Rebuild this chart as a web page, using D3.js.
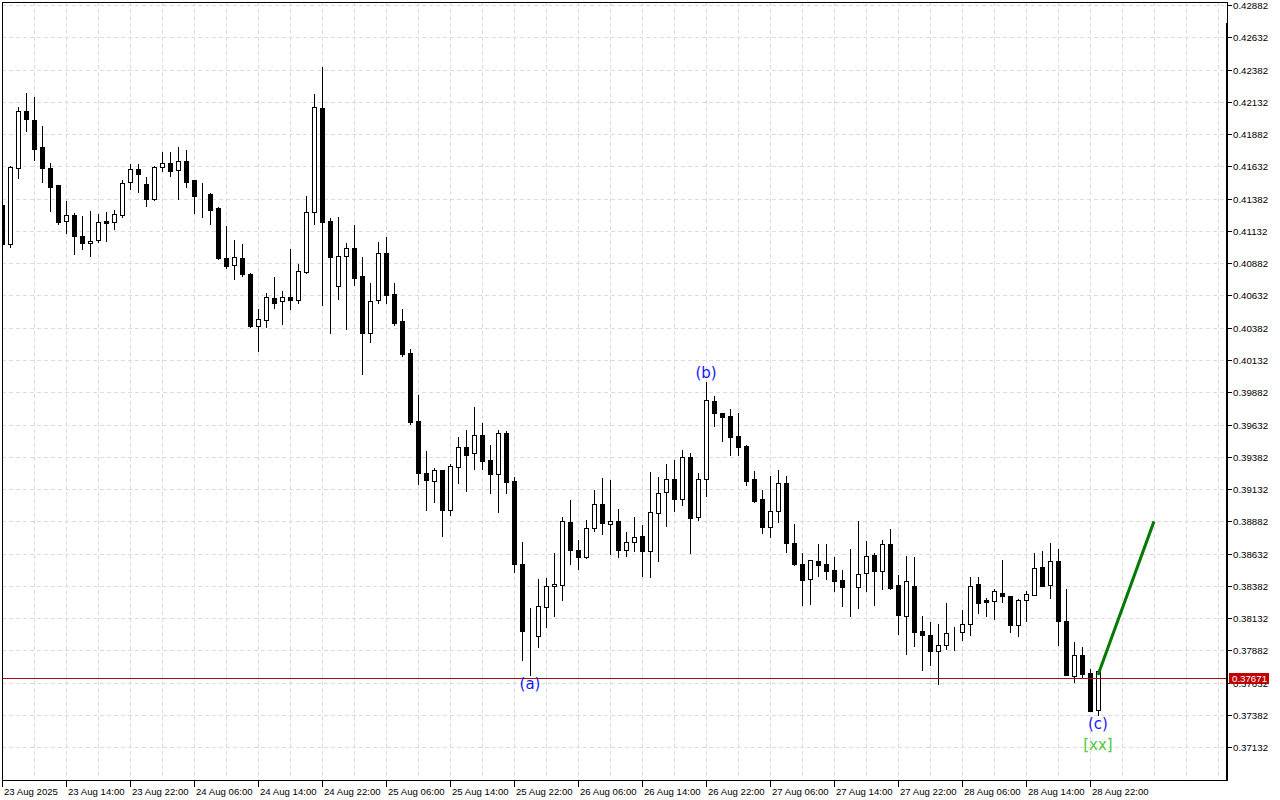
<!DOCTYPE html>
<html>
<head>
<meta charset="utf-8">
<script src="https://cdn.jsdelivr.net/npm/d3@7"></script>
<style>
  html, body { margin: 0; padding: 0; background: #fff; }
  svg { display: block; }
  text { font-family: "Liberation Sans", Arial, sans-serif; }
</style>
</head>
<body>
<svg id="chart" width="1280" height="800"></svg>
<script>
const width = 1280;
const height = 800;

// H1 bars, first bar = 23 Aug 06:00
const opens = [
  0.41332, 0.41027, 0.41616, 0.42058, 0.41988, 0.41779, 0.41616, 0.41485, 0.41206, 0.41252,
  0.41089, 0.41035, 0.41058, 0.41208, 0.41198, 0.41257, 0.41508, 0.41609, 0.41492, 0.41376,
  0.41624, 0.41655, 0.41601, 0.41671, 0.41526, 0.41413, 0.41415, 0.41309, 0.40919, 0.40865,
  0.40919, 0.40797, 0.40397, 0.40441, 0.40609, 0.40586, 0.40617, 0.40598, 0.40815, 0.41275,
  0.42081, 0.41208, 0.40708, 0.40941, 0.40996, 0.40779, 0.40338, 0.40593, 0.40958, 0.40640,
  0.40433, 0.40185, 0.39658, 0.39253, 0.39198, 0.39278, 0.38968, 0.39304, 0.39459, 0.39408,
  0.39550, 0.39356, 0.39247, 0.39563, 0.39193, 0.38555, 0.37990, 0.37997, 0.38219, 0.38385,
  0.38392, 0.38881, 0.38664, 0.38606, 0.38834, 0.39020, 0.38865, 0.38888, 0.38664, 0.38726,
  0.38772, 0.38653, 0.38950, 0.39110, 0.39209, 0.39059, 0.39379, 0.38919, 0.39214, 0.39818,
  0.39718, 0.39697, 0.39542, 0.39467, 0.39209, 0.39054, 0.38839, 0.38966, 0.39183, 0.38718,
  0.38550, 0.38436, 0.38578, 0.38555, 0.38503, 0.38426, 0.38372, 0.38374, 0.38482, 0.38620,
  0.38498, 0.38710, 0.38387, 0.38149, 0.38379, 0.38031, 0.37999, 0.37878, 0.37927, 0.38028,
  0.38028, 0.38090, 0.38395, 0.38271, 0.38265, 0.38330, 0.38302, 0.38079, 0.38276, 0.38315,
  0.38532, 0.38392, 0.38578, 0.38113, 0.37687, 0.37850, 0.37705, 0.37418
];
const highs = [
  0.41371, 0.41634, 0.42092, 0.42198, 0.42169, 0.41944, 0.41655, 0.41487, 0.41363, 0.41268,
  0.41247, 0.41286, 0.41262, 0.41278, 0.41293, 0.41526, 0.41650, 0.41650, 0.41547, 0.41634,
  0.41743, 0.41743, 0.41779, 0.41758, 0.41530, 0.41500, 0.41423, 0.41319, 0.41169, 0.41061,
  0.41030, 0.40803, 0.40531, 0.40648, 0.40774, 0.40666, 0.40991, 0.40875, 0.41402, 0.42192,
  0.42402, 0.41234, 0.41239, 0.41040, 0.41177, 0.40929, 0.40725, 0.41045, 0.41084, 0.40725,
  0.40531, 0.40214, 0.39860, 0.39426, 0.39296, 0.39280, 0.39325, 0.39532, 0.39588, 0.39769,
  0.39645, 0.39472, 0.39588, 0.39583, 0.39222, 0.38723, 0.38211, 0.38439, 0.38440, 0.38637,
  0.38916, 0.39051, 0.38741, 0.38896, 0.39123, 0.39216, 0.39201, 0.38981, 0.38800, 0.38914,
  0.38852, 0.39263, 0.39226, 0.39330, 0.39356, 0.39433, 0.39408, 0.39253, 0.39960, 0.39852,
  0.39720, 0.39756, 0.39722, 0.39470, 0.39273, 0.39123, 0.39232, 0.39278, 0.39232, 0.38860,
  0.38635, 0.38585, 0.38705, 0.38705, 0.38606, 0.38509, 0.38666, 0.38883, 0.38728, 0.38640,
  0.38736, 0.38821, 0.38465, 0.38612, 0.38604, 0.38147, 0.38100, 0.38085, 0.38248, 0.38064,
  0.38199, 0.38449, 0.38449, 0.38286, 0.38356, 0.38586, 0.38305, 0.38278, 0.38346, 0.38637,
  0.38651, 0.38715, 0.38671, 0.38361, 0.37948, 0.37909, 0.37741, 0.37728
];
const lows = [
  0.41014, 0.41009, 0.41544, 0.41908, 0.41683, 0.41513, 0.41288, 0.41182, 0.41113, 0.40950,
  0.40989, 0.40939, 0.41048, 0.41055, 0.41148, 0.41241, 0.41456, 0.41435, 0.41327, 0.41370,
  0.41598, 0.41559, 0.41376, 0.41474, 0.41272, 0.41241, 0.41185, 0.40914, 0.40846, 0.40761,
  0.40784, 0.40389, 0.40203, 0.40389, 0.40536, 0.40412, 0.40526, 0.40570, 0.40807, 0.41185,
  0.40557, 0.40342, 0.40607, 0.40369, 0.40712, 0.40020, 0.40273, 0.40575, 0.40570, 0.40402,
  0.40164, 0.39635, 0.39170, 0.38968, 0.39033, 0.38769, 0.38935, 0.39180, 0.39118, 0.39291,
  0.39291, 0.39098, 0.38955, 0.39102, 0.38490, 0.37806, 0.37690, 0.37907, 0.38064, 0.38147,
  0.38276, 0.38555, 0.38516, 0.38600, 0.38808, 0.38785, 0.38633, 0.38606, 0.38614, 0.38653,
  0.38457, 0.38451, 0.38575, 0.38847, 0.38963, 0.39007, 0.38637, 0.38896, 0.39079, 0.39622,
  0.39505, 0.39397, 0.39397, 0.39164, 0.39033, 0.38792, 0.38761, 0.38878, 0.38645, 0.38544,
  0.38234, 0.38240, 0.38457, 0.38436, 0.38341, 0.38224, 0.38147, 0.38211, 0.38341, 0.38234,
  0.38358, 0.38361, 0.38007, 0.37852, 0.37914, 0.37728, 0.37767, 0.37620, 0.37896, 0.37883,
  0.37961, 0.37999, 0.38172, 0.38147, 0.38124, 0.38258, 0.38025, 0.37994, 0.38110, 0.38310,
  0.38380, 0.38289, 0.37922, 0.37690, 0.37638, 0.37672, 0.37410, 0.37380
];
const closes = [
  0.41030, 0.41624, 0.42058, 0.41996, 0.41768, 0.41616, 0.41474, 0.41203, 0.41252, 0.41089,
  0.41035, 0.41051, 0.41198, 0.41195, 0.41260, 0.41500, 0.41609, 0.41575, 0.41376, 0.41624,
  0.41655, 0.41598, 0.41671, 0.41513, 0.41404, 0.41413, 0.41296, 0.40921, 0.40862, 0.40927,
  0.40800, 0.40397, 0.40446, 0.40617, 0.40575, 0.40617, 0.40598, 0.40818, 0.41275, 0.42089,
  0.41203, 0.40931, 0.40941, 0.40996, 0.40769, 0.40342, 0.40586, 0.40958, 0.40637, 0.40418,
  0.40177, 0.39648, 0.39257, 0.39206, 0.39278, 0.38968, 0.39309, 0.39459, 0.39395, 0.39550,
  0.39348, 0.39247, 0.39563, 0.39188, 0.38555, 0.38031, 0.37986, 0.38230, 0.38382, 0.38400,
  0.38888, 0.38664, 0.38606, 0.38834, 0.39020, 0.38873, 0.38888, 0.38664, 0.38726, 0.38764,
  0.38653, 0.38958, 0.39105, 0.39214, 0.39059, 0.39381, 0.38912, 0.39214, 0.39826, 0.39725,
  0.39691, 0.39536, 0.39462, 0.39195, 0.39040, 0.38839, 0.38966, 0.39183, 0.38715, 0.38550,
  0.38426, 0.38583, 0.38544, 0.38498, 0.38418, 0.38374, 0.38372, 0.38478, 0.38612, 0.38498,
  0.38710, 0.38369, 0.38157, 0.38423, 0.38025, 0.38002, 0.37878, 0.37927, 0.38020, 0.38028,
  0.38090, 0.38385, 0.38250, 0.38258, 0.38343, 0.38304, 0.38079, 0.38276, 0.38323, 0.38524,
  0.38382, 0.38578, 0.38110, 0.37692, 0.37850, 0.37700, 0.37413, 0.37723
];

const priceTicks = [
  0.42882, 0.42632, 0.42382, 0.42132, 0.41882, 0.41632, 0.41382, 0.41132, 0.40882, 0.40632,
  0.40382, 0.40132, 0.39882, 0.39632, 0.39382, 0.39132, 0.38882, 0.38632, 0.38382, 0.38132,
  0.37882, 0.37632, 0.37382, 0.37132
];
const timeTickBars = [0, 8, 16, 24, 32, 40, 48, 56, 64, 72, 80, 88, 96, 104, 112, 120, 128, 136];
const timeTickLabels = [
  "23 Aug 2025", "23 Aug 14:00", "23 Aug 22:00", "24 Aug 06:00", "24 Aug 14:00", "24 Aug 22:00",
  "25 Aug 06:00", "25 Aug 14:00", "25 Aug 22:00", "26 Aug 06:00", "26 Aug 14:00", "26 Aug 22:00",
  "27 Aug 06:00", "27 Aug 14:00", "27 Aug 22:00", "28 Aug 06:00", "28 Aug 14:00", "28 Aug 22:00"
];
const currentPrice = 0.37671;

// wave marks: [bar, price, text]
const waveLabels = [
  [66, 0.37690, "(a)"],
  [88, 0.39960, "(b)"],
  [137, 0.37380, "(c)"]
];
const degreeLabel = [137, 0.37380, "[xx]"];
const forecast = [[137, 0.37692], [144, 0.38882]];

const plotLeft = 2, plotRight = 1227, plotTop = 2, plotBottom = 780;

const x = d3.scaleLinear().domain([0, 153]).range([2, 1226]);
const y = d3.scaleLinear().domain([0.37132, 0.42882]).range([747.3, 5]);

const svg = d3.select("#chart");
svg.append("rect").attr("width", width).attr("height", height).attr("fill", "#fff");

svg.append("defs").append("clipPath").attr("id", "plot")
  .append("rect").attr("x", plotLeft + 1).attr("y", plotTop + 1)
  .attr("width", plotRight - plotLeft - 2).attr("height", plotBottom - plotTop - 1);

// grid
const grid = svg.append("g").attr("stroke", "#dcdcdc").attr("stroke-dasharray", "4,3");
grid.selectAll("line.h").data(priceTicks).join("line").attr("class", "h")
  .attr("x1", plotLeft).attr("x2", plotRight - 1)
  .attr("y1", d => Math.round(y(d)) + 0.5).attr("y2", d => Math.round(y(d)) + 0.5);
grid.selectAll("line.v").data(d3.range(4, 153, 4)).join("line").attr("class", "v")
  .attr("x1", d => Math.round(x(d)) + 0.5).attr("x2", d => Math.round(x(d)) + 0.5)
  .attr("y1", plotTop).attr("y2", plotBottom);

// candles
const bars = d3.range(opens.length).map(i => ({
  i, o: opens[i], h: highs[i], l: lows[i], c: closes[i]
}));
const plot = svg.append("g").attr("clip-path", "url(#plot)");
const candle = plot.selectAll("g.candle").data(bars).join("g").attr("class", "candle");
candle.append("line")
  .attr("x1", d => Math.round(x(d.i)) + 0.5).attr("x2", d => Math.round(x(d.i)) + 0.5)
  .attr("y1", d => Math.round(y(d.h))).attr("y2", d => Math.round(y(d.l)) + 1)
  .attr("stroke", "#000");
candle.append("rect")
  .attr("x", d => Math.round(x(d.i)) - 2 + 0.5)
  .attr("y", d => Math.round(y(Math.max(d.o, d.c))) + 0.5)
  .attr("width", 4)
  .attr("height", d => Math.round(y(Math.min(d.o, d.c))) - Math.round(y(Math.max(d.o, d.c))))
  .attr("fill", d => d.c > d.o ? "#fff" : "#000")
  .attr("stroke", "#000");

// current price line
plot.append("line")
  .attr("x1", plotLeft).attr("x2", plotRight)
  .attr("y1", Math.round(y(currentPrice)) + 0.5).attr("y2", Math.round(y(currentPrice)) + 0.5)
  .attr("stroke", "#a01010");

// forecast line
plot.append("path")
  .attr("d", d3.line().x(d => x(d[0])).y(d => y(d[1]))(forecast))
  .attr("fill", "none").attr("stroke", "#007a00").attr("stroke-width", 3);

// wave labels
svg.selectAll("text.wave").data(waveLabels).join("text")
  .attr("class", "wave")
  .attr("x", d => x(d[0]))
  .attr("y", d => d[2] === "(b)" ? y(d[1]) - 4 : y(d[1]) + 14)
  .attr("text-anchor", "middle")
  .style("font-family", "'DejaVu Sans', sans-serif")
  .style("font-size", "15px")
  .attr("fill", "#1818f0")
  .text(d => d[2]);
svg.append("text")
  .attr("x", x(degreeLabel[0])).attr("y", y(degreeLabel[1]) + 35)
  .attr("text-anchor", "middle")
  .style("font-family", "'DejaVu Sans', sans-serif")
  .style("font-size", "15px")
  .attr("fill", "#50c840")
  .text(degreeLabel[2]);

// frame
const frame = svg.append("g").attr("stroke", "#000").attr("fill", "none");
frame.append("line").attr("x1", plotLeft + 0.5).attr("x2", plotLeft + 0.5).attr("y1", plotTop).attr("y2", plotBottom + 1);
frame.append("line").attr("x1", plotLeft).attr("x2", plotRight + 1).attr("y1", plotTop + 0.5).attr("y2", plotTop + 0.5);
frame.append("line").attr("x1", plotLeft).attr("x2", plotRight + 1).attr("y1", plotBottom + 0.5).attr("y2", plotBottom + 0.5);
frame.append("line").attr("x1", plotRight + 0.5).attr("x2", plotRight + 0.5).attr("y1", plotTop).attr("y2", plotBottom + 1);
frame.append("rect").attr("x", plotRight - 1).attr("y", 23).attr("width", 2).attr("height", plotBottom - 22)
  .attr("fill", "#000").attr("stroke", "none");

// price axis
const yAxis = svg.append("g");
yAxis.selectAll("line").data(priceTicks).join("line")
  .attr("x1", plotRight + 1).attr("x2", plotRight + 5)
  .attr("y1", d => Math.round(y(d)) + 0.5).attr("y2", d => Math.round(y(d)) + 0.5)
  .attr("stroke", "#000");
yAxis.selectAll("text").data(priceTicks).join("text")
  .attr("x", plotRight + 6).attr("y", d => Math.round(y(d)) + 4)
  .style("font-size", "9.7px").attr("fill", "#000")
  .text(d => d.toFixed(5));

// current price box (covers the tick label under it, as in the terminal)
const py = Math.round(y(currentPrice));
svg.append("rect").attr("x", plotRight + 2).attr("y", py - 5).attr("width", 40).attr("height", 11)
  .attr("fill", "#c00000");
svg.append("text").attr("x", plotRight + 5).attr("y", py + 4)
  .style("font-size", "9.7px").attr("fill", "#fff")
  .text(currentPrice.toFixed(5));

// time axis
const xAxis = svg.append("g");
xAxis.selectAll("line").data(timeTickBars).join("line")
  .attr("x1", d => Math.round(x(d)) + 0.5).attr("x2", d => Math.round(x(d)) + 0.5)
  .attr("y1", plotBottom + 1).attr("y2", plotBottom + 7)
  .attr("stroke", "#000");
xAxis.selectAll("text").data(timeTickBars).join("text")
  .attr("x", d => Math.round(x(d)) + 2).attr("y", plotBottom + 15)
  .style("font-size", "9.6px").attr("fill", "#000")
  .text((d, i) => timeTickLabels[i]);
</script>
</body>
</html>
